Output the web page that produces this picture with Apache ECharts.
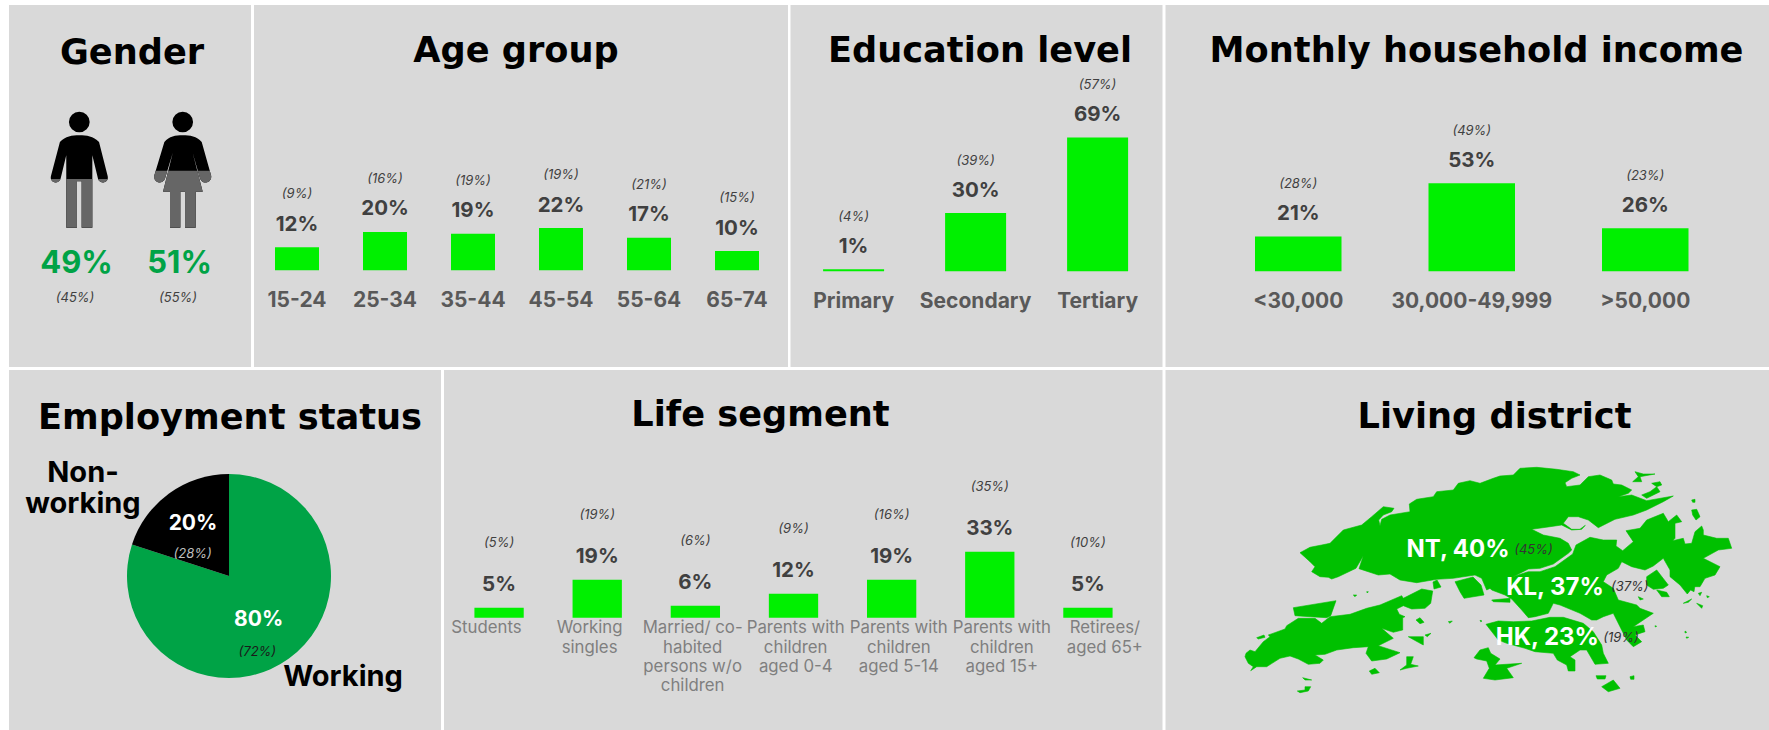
<!DOCTYPE html>
<html><head><meta charset="utf-8">
<script src="https://cdn.jsdelivr.net/npm/echarts@6/dist/echarts.min.js"></script>
<style>html,body{margin:0;padding:0;background:#fff}#c{width:1769px;height:730px}</style>
</head><body><div id="c"></div>
<script>
// ---------- data ----------
const genderCats = ['Male', 'Female'];
const genderVals = [49, 51];
const genderBase = [45, 55];
const genderFill = [42, 49];
const ageCats = ['15-24', '25-34', '35-44', '45-54', '55-64', '65-74'];
const ageVals = [12, 20, 19, 22, 17, 10];
const ageBase = [9, 16, 19, 19, 21, 15];
const eduCats = ['Primary', 'Secondary', 'Tertiary'];
const eduVals = [1, 30, 69];
const eduBase = [4, 39, 57];
const incomeCats = ['<30,000', '30,000-49,999', '>50,000'];
const incomeVals = [21, 53, 26];
const incomeBase = [28, 49, 23];
const empCats = ['Working', 'Non-\nworking'];
const empVals = [80, 20];
const empBase = [72, 28];
const lifeCats = ['Students', 'Working\nsingles', 'Married/ co-\nhabited\npersons w/o\nchildren', 'Parents with\nchildren\naged 0-4', 'Parents with\nchildren\naged 5-14', 'Parents with\nchildren\naged 15+', 'Retirees/\naged 65+'];
const lifeVals = [5, 19, 6, 12, 19, 33, 5];
const lifeBase = [5, 19, 6, 9, 16, 35, 10];
const districtCats = ['NT', 'KL', 'HK'];
const districtVals = [40, 37, 23];
const districtBase = [45, 37, 19];

// ---------- style ----------
const FONT = 'Inter';
const TITLE_FONT = 'DejaVu Sans';
const GREY = '#d9d9d9', BAR = '#00f000', DEEP = '#00a346', MAPG = '#00c000';
const pct = v => v + '%';

const manPath = 'path://M148 105C170 105 190 108 207 125L233 228A15 15 0 0 1 204 236L187 165L187 383L155 383L155 243L141 243L141 383L109 383L109 165L92 236A15 15 0 0 1 63 228L90 125C107 108 126 105 148 105ZM179 65A31 31 0 1 1 117 65A31 31 0 1 1 179 65Z';
const womanPath = 'path://M458 105C480 105 500 108 515 125L543 225A16 16 0 0 1 510 235L488 158L518 275L497 275L497 383L465 383L465 275L451 275L451 383L420 383L420 275L399 275L428 158L405 235A16 16 0 0 1 373 225L403 125C418 108 436 105 458 105ZM489 65A31 31 0 1 1 427 65A31 31 0 1 1 489 65Z';

// ---------- Hong Kong outline, as a map asset (traced in four local frames) ----------
const F1 = [1290, 460], F2 = [1500, 460], F3 = [1240, 585], F4 = [1470, 585];
function pts(f, s) {
  return s.trim().split(/\s+/).map(p => {
    const a = p.split(',');
    return (f[0] + a[0] / 3).toFixed(1) + ',' + (f[1] + a[1] / 3).toFixed(1);
  }).join(' ');
}
function poly(name) { return '<polygon name="' + name + '" points="' + Array.prototype.slice.call(arguments, 1).join(' ') + '"/>'; }
const isletsF2 = ['405,35 430,42 465,42 420,50 425,65 398,65 415,50', '425,105 450,95 470,80 480,95 440,115', '455,70 480,65 485,75 470,80', '575,120 585,118 585,127 578,127', '575,150 590,148 600,170 588,180 578,165', '440,350 470,330 505,375 490,385 460,388 440,375'];
const isletsF3 = ['50,158 72,150 75,157 55,162', '528,105 540,98 552,112 540,116', '505,155 550,155 550,180 535,172', '555,150 573,145 562,155', '625,110 637,108 630,115', '388,258 405,250 418,263 395,268', '480,255 500,240 500,215 520,215 512,238 535,243 500,250', '188,278 215,285 195,285', '172,318 195,315 195,305 212,305 205,318 180,323', '340,30 350,30 345,35', '380,20 385,20 382,24', '160,68 288,47 272,92 260,98 210,95 165,92'];
const isletsF4 = ['378,272 408,272 405,282 382,282', '395,305 430,285 450,310 415,320', '480,275 492,272 492,283 482,283', '560,15 590,22 598,35 575,35', '505,35 520,42 510,45', '640,55 665,42 655,52', '680,55 698,62 695,70', '685,25 695,22 690,32', '710,32 718,35 712,38', '645,138 650,142 645,144', '648,156 656,157 650,160', '30,106 36,108 32,110', '555,122 560,124 556,126', '660,0 675,0 672,20 662,15', '65,45 120,40 120,52 70,50', '12,218 30,195 55,188 62,205 90,222 75,240 155,235 110,250 130,278 75,285 40,280 58,250 50,228 20,222'];
const hkSvg = '<svg xmlns="http://www.w3.org/2000/svg" viewBox="1220 450 549 260">' +
 poly('NT',
  pts(F1, '30,278 60,262 95,255 120,250 160,210 215,195 245,170 280,140 312,145 305,155 280,165 266,180 270,197 275,178 300,165 360,155 358,132 380,118 430,110 440,95 490,90 505,70 540,62 570,70 610,55'),
  pts(F2, '0,48 40,45 60,25 110,22 170,28 220,35 240,45 215,55 195,68 200,80 240,75 265,50 300,45 335,60 340,72 365,75 395,90 385,100 355,110 395,105 440,122 520,108 490,125 440,150 400,165 345,178 295,203 265,180 235,170 205,170 190,190 215,208 240,208 256,196 245,208 215,210 185,195 150,200 95,208 130,225 180,235 205,250 215,270 205,280 160,312 120,325 85,327'),
  '1486.7,590',
  pts(F1, '575,355 555,345 490,355 440,358 380,368 330,360 300,342 265,345 207,326 220,287 198,325 145,350 125,357 115,352 90,350 65,335 75,320 60,305')) +
 poly('KL',
  pts(F2, '85,335 120,335 165,320 218,282 228,255 270,232 310,240 350,240 348,258 368,272 400,245 378,212 420,205 440,180 490,160 505,185 530,165 545,185 525,190 525,235 518,242 550,235 555,252 575,250 585,215 605,198 610,210 610,225 650,235 685,235 695,265 655,270 610,295 660,320 645,345 615,355 600,380 580,380 562,402 540,375 510,350 510,330 490,295 460,318 435,330 395,320 365,305 355,325 320,345 310,365 340,385'),
  pts(F4, '445,45 500,60 510,70 550,85 520,105 490,125 520,120 525,140 495,150 515,170 490,185 470,165 450,125 430,85 400,95 380,105 365,105 330,85 270,60 250,55 235,85 195,95 175,98 155,75 125,42 105,30 65,15 50,0')) +
 poly('HK', pts(F4, '48,118 85,108 130,110 185,108 240,97 280,97 340,115 370,140 395,180 400,205 415,235 375,238 350,195 330,195 300,215 315,225 315,258 295,258 290,240 262,225 250,205 195,200 165,190 110,175 85,165')) +
 poly('Lantau', pts(F3, '18,205 30,195 45,200 70,170 90,155 85,150 135,132 140,122 175,100 225,100 245,115 270,95 330,88 380,70 420,60 485,32 490,40 545,12 578,18 572,55 555,70 515,72 490,62 470,72 478,88 495,95 488,98 488,135 460,142 425,130 460,160 415,182 480,203 440,222 395,228 378,205 385,185 340,188 290,195 255,208 225,210 250,225 240,235 205,238 175,222 150,213 120,220 80,245 50,245 32,257 40,245 25,235 15,215')) +
 poly('Stonecutters', '1455,581.7 1473,577 1481,585 1484,595 1464,598.3 1460,591.7') +
 poly('Green', '1433,582 1437,580 1441,587 1434,589') +
 isletsF2.map(p => poly('Islet', pts(F2, p))).join('') +
 isletsF3.map(p => poly('Islet', pts(F3, p))).join('') +
 isletsF4.map(p => poly('Islet', pts(F4, p))).join('') +
 '</svg>';
echarts.registerMap('hk', { svg: hkSvg });

// ---------- helpers ----------
function barPanel(i, cats, vals, base, w, baseGap) {
  return {
    type: 'bar', xAxisIndex: i, yAxisIndex: i, data: vals, barWidth: w, silent: true,
    itemStyle: { color: BAR },
    label: {
      show: true, position: 'top', distance: 12, fontFamily: FONT,
      formatter: p => '{b|(' + base[p.dataIndex] + '%)}\n{v|' + vals[p.dataIndex] + '%}',
      rich: {
        b: { fontSize: 13, fontStyle: 'italic', color: '#404040', lineHeight: baseGap, fontFamily: FONT, align: 'center' },
        v: { fontSize: 20.5, fontWeight: 'bold', color: '#404040', lineHeight: 24, fontFamily: FONT, align: 'center' }
      }
    }
  };
}
function text(x, y, str, size, color, opt) {
  return {
    type: 'text', x: x, y: y, z: 20, silent: true,
    style: Object.assign({ text: str, fontFamily: FONT, fontSize: size, fill: color, align: 'center', verticalAlign: 'middle' }, opt || {})
  };
}
const bold = { fontWeight: 'bold' }, ital = { fontStyle: 'italic' };
function rect(x0, y0, x1, y1) {
  return { type: 'rect', z: 0, silent: true, shape: { x: x0, y: y0, width: x1 - x0, height: y1 - y0 }, style: { fill: GREY } };
}
function title(t, x, y) {
  return { text: t, left: x, top: y, textAlign: 'center', padding: 0, textStyle: { fontFamily: TITLE_FONT, fontSize: 35.2, fontWeight: 'bold', color: '#000' } };
}

// ---------- grids ----------
const grids = [
  { left: 253, top: 78.3, width: 528, height: 192 },       // age
  { left: 792.6, top: 77.3, width: 366, height: 194 },     // education
  { left: 1211.5, top: 105.3, width: 520.5, height: 166 }, // income
  { left: 450, top: 417.7, width: 687, height: 200 },      // life
  { left: 435, top: 417.7, width: 721.4, height: 200 },    // life labels
  { left: 27.6, top: 111.7, width: 206.8, height: 116 }    // gender
];
const catStyle = { interval: 0, fontFamily: FONT, fontWeight: 'bold', fontSize: 21, color: '#595959', lineHeight: 24, margin: 17 };
const hidden = { show: false };
const xBase = (i, cats, lab) => ({ type: 'category', gridIndex: i, data: cats, axisLine: hidden, axisTick: hidden, splitLine: hidden, axisLabel: lab });
const xAxes = [
  xBase(0, ageCats, catStyle),
  xBase(1, eduCats, catStyle),
  xBase(2, incomeCats, catStyle),
  xBase(3, lifeCats, { show: false }),
  xBase(4, lifeCats, { interval: 0, fontFamily: FONT, fontSize: 16.8, color: '#7f7f7f', lineHeight: 19.3, margin: 0, verticalAlign: 'top' }),
  xBase(5, genderCats, { show: false })
];
const yAxes = grids.map((g, i) => ({ type: 'value', gridIndex: i, min: 0, max: 100, show: false }));

const districtXY = [[1458, 548.7, 1533.4], [1555, 586, 1629.7], [1547.4, 636.7, 1621]];
const nonWorking = empCats[1].split('\n');

const option = {
  animation: false,
  backgroundColor: '#fff',
  title: [
    title('Gender', 132, 33.5), title('Age group', 516, 31.5), title('Education level', 980, 31.5), title('Monthly household income', 1476.5, 31.5),
    title('Employment status', 230, 398.5), title('Life segment', 760.5, 395.5), title('Living district', 1494.5, 397.5)
  ],
  grid: grids, xAxis: xAxes, yAxis: yAxes,
  graphic: { elements: [
    rect(9, 5, 251, 367), rect(254, 5, 788, 367), rect(790.5, 5, 1162.5, 367), rect(1165.5, 5, 1769, 367),
    rect(9, 370, 441, 730), rect(444, 370, 1162.5, 730), rect(1165.5, 370, 1769, 730),
    text(76.5, 261, pct(genderVals[0]), 31, DEEP, bold), text(179.6, 261, pct(genderVals[1]), 31, DEEP, bold),
    text(75, 297.3, '(' + pct(genderBase[0]) + ')', 13, '#404040', ital), text(178, 297.3, '(' + pct(genderBase[1]) + ')', 13, '#404040', ital),
    text(193, 522, pct(empVals[1]), 21, '#fff', bold), text(192.7, 553, '(' + pct(empBase[1]) + ')', 13, '#bfbfbf', ital),
    text(258.7, 618, pct(empVals[0]), 21, '#fff', bold), text(257.3, 651, '(' + pct(empBase[0]) + ')', 13, '#1a1a1a', ital),
    text(343, 675, empCats[0], 29, '#000', bold), text(83, 471, nonWorking[0], 29, '#000', bold), text(83, 502, nonWorking[1], 29, '#000', bold)
  ].concat(districtCats.flatMap((c, i) => [
    text(districtXY[i][0], districtXY[i][1], c + ', ' + pct(districtVals[i]), 24, '#fff', bold),
    text(districtXY[i][2], districtXY[i][1], '(' + pct(districtBase[i]) + ')', 13, '#333', ital)
  ])) },
  series: [
    barPanel(0, ageCats, ageVals, ageBase, 44, 36),
    barPanel(1, eduCats, eduVals, eduBase, 61, 34),
    barPanel(2, incomeCats, incomeVals, incomeBase, 86.5, 34),
    barPanel(3, lifeCats, lifeVals, lifeBase, 49.3, 60),
    { type: 'pictorialBar', xAxisIndex: 5, yAxisIndex: 5, silent: true, symbolSize: [57, '100%'], symbolBoundingData: 100, symbolPosition: 'start',
      itemStyle: { color: '#000' }, z: 3,
      data: [{ value: 100, symbol: manPath }, { value: 100, symbol: womanPath }] },
    { type: 'pictorialBar', xAxisIndex: 5, yAxisIndex: 5, silent: true, symbolSize: [57, '100%'], symbolBoundingData: 100, symbolPosition: 'start', symbolClip: true,
      itemStyle: { color: '#666' }, z: 4,
      data: [{ value: genderFill[0], symbol: manPath }, { value: genderFill[1], symbol: womanPath }] },
    { type: 'pie', center: [229, 576], radius: 102, startAngle: 90, silent: true, label: { show: false }, labelLine: { show: false }, z: 3,
      data: [{ name: 'Working', value: empVals[0], itemStyle: { color: DEEP } }, { name: 'Non-working', value: empVals[1], itemStyle: { color: '#000' } }] },
    { type: 'map', map: 'hk', roam: false, left: 1220, top: 450, width: 549, height: 260, silent: true, z: 3,
      label: { show: false }, itemStyle: { areaColor: MAPG, color: MAPG, borderColor: MAPG, borderWidth: 0.6 },
      data: districtCats.map((c, i) => ({ name: c, value: districtVals[i] })) }
  ]
};
const chart = echarts.init(document.getElementById('c'), null, { renderer: 'svg', width: 1769, height: 730 });
chart.setOption(option);
</script></body></html>
